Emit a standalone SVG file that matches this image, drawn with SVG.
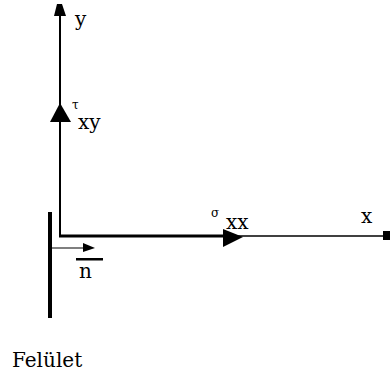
<svg xmlns="http://www.w3.org/2000/svg" width="391" height="375" viewBox="0 0 391 375">
<style>
.t{font-family:"DejaVu Serif","Liberation Serif",serif;font-size:20px;fill:#000}
.s{font-family:"DejaVu Serif","Liberation Serif",serif;font-size:12px;fill:#000}
.ah{fill:#000}
</style>
<rect width="391" height="375" fill="#fff"/>
<g id="connectors">
<line x1="60" y1="12" x2="60" y2="237" stroke="#000" stroke-width="2"/>
<polygon class="ah" points="57,4 62,4 66,16 54,16"/>
<polygon class="ah" points="60,103 71,122 50,122"/>
<line x1="59" y1="236" x2="228" y2="236" stroke="#000" stroke-width="3"/>
<line x1="228" y1="236" x2="385" y2="236" stroke="#000" stroke-width="1.5"/>
<polygon class="ah" points="223,229 243,237 223,247"/>
<rect x="383" y="231" width="7" height="9" fill="#000"/>
<line x1="50" y1="248" x2="86" y2="248" stroke="#000" stroke-width="1.2"/>
<polygon class="ah" points="83,243 95,248 83,252"/>
</g>
<g id="surface">
<line x1="50" y1="212" x2="50" y2="318" stroke="#000" stroke-width="4"/>
</g>
<g id="n-label">
<rect x="76" y="258" width="27" height="2.5" fill="#000"/>
<text class="t" x="79" y="278">n</text>
</g>
<g id="y-label"><text class="t" x="75" y="26">y</text></g>
<g id="x-label"><text class="t" x="361" y="223">x</text></g>
<g id="tau-label"><text class="s" x="72" y="109">τ</text><text class="t" x="78" y="129">xy</text></g>
<g id="sigma-label"><text class="s" x="211" y="217">σ</text><text class="t" x="226" y="229">xx</text></g>
<g id="felulet"><text class="t" x="12" y="367">Felület</text></g>
</svg>
